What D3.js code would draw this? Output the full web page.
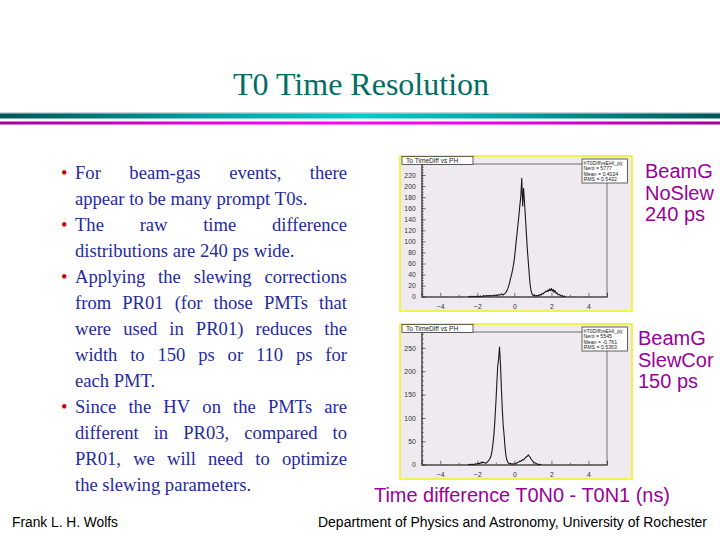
<!DOCTYPE html>
<html>
<head>
<meta charset="utf-8">
<script src="https://cdn.jsdelivr.net/npm/d3@7"></script>
<style>
  body { margin: 0; background: #fff; }
  svg { display: block; }
</style>
</head>
<body>
<svg id="slide" width="720" height="540"></svg>
<script>
'use strict';

// ---- slide text ----
var title = 'T0 Time Resolution';
var bulletParas = [
  ['For beam-gas events, there', 'appear to be many prompt T0s.'],
  ['The raw time difference', 'distributions are 240 ps wide.'],
  ['Applying the slewing corrections', 'from PR01 (for those PMTs that',
   'were used in PR01) reduces the', 'width to 150 ps or 110 ps for', 'each PMT.'],
  ['Since the HV on the PMTs are', 'different in PR03, compared to',
   'PR01, we will need to optimize', 'the slewing parameters.']
];
var label1 = ['BeamG', 'NoSlew', '240 ps'];
var label2 = ['BeamG', 'SlewCor', '150 ps'];
var xAxisTitle = 'Time difference T0N0 - T0N1 (ns)';
var footLeft = 'Frank L. H. Wolfs';
var footRight = 'Department of Physics and Astronomy, University of Rochester';

// ---- histogram data (bin width 0.05 ns) ----
var binWidth = 0.05;
var xTicks = [-4, -2, 0, 2, 4];
var xMinor = [-5, -3, -1, 1, 3, 5];

var h1Start = -2.5;
var h1Counts = [
  0, 0, 0, 1, 0, 0, 1, 0, 0, 1,
  0, 1, 0, 1, 1, 0, 1, 2, 1, 1,
  2, 1, 2, 1, 2, 2, 1, 2, 3, 2,
  2, 3, 2, 4, 3, 3, 5, 4, 3, 5,
  6, 8, 11, 15, 20, 26, 34, 40, 48, 57,
  68, 84, 100, 116, 132, 148, 166, 182, 214, 164,
  196, 170, 142, 114, 86, 64, 42, 22, 11, 5,
  3, 2, 3, 1, 2, 1, 3, 2, 4, 3,
  6, 5, 7, 8, 10, 9, 12, 10, 14, 11,
  15, 10, 13, 8, 11, 6, 7, 4, 3, 4,
  2, 1, 2, 0, 1, 0
];
var h1YMax = 240;
var h1YTicks = [0, 20, 40, 60, 80, 100, 120, 140, 160, 180, 200, 220];
var h1Stats = ['hT0DIffvsEHI_py', 'Nent = 5777', 'Mean = 0.4024', 'RMS  = 0.5432'];

var h2Start = -2.5;
var h2Counts = [
  0, 0, 1, 0, 1, 1, 0, 1, 2, 1,
  2, 3, 2, 4, 3, 6, 4, 5, 4, 3,
  4, 6, 8, 11, 14, 20, 30, 46, 66, 95,
  130, 170, 210, 226, 252, 215, 165, 118, 84, 62,
  36, 18, 10, 5, 3, 2, 3, 1, 2, 1,
  2, 2, 3, 4, 5, 6, 8, 7, 9, 11,
  10, 13, 15, 17, 18, 21, 18, 16, 12, 10,
  7, 5, 4, 3, 2, 1, 1, 0, 1, 0
];
var h2YMax = 284;
var h2YTicks = [0, 50, 100, 150, 200, 250];
var h2Stats = ['hT0DIffvsEHI_py', 'Nent = 5545', 'Mean = -0.761', 'RMS  = 0.5363'];

var svg = d3.select('#slide');
var defs = svg.append('defs');

// ---- title and rules ----
svg.append('text')
  .attr('x', 361).attr('y', 95)
  .attr('text-anchor', 'middle')
  .style('font-family', '"Liberation Serif", "Times New Roman", serif')
  .style('font-size', '32px')
  .attr('fill', '#006e66')
  .text(title);

var teal = defs.append('linearGradient').attr('id', 'teal');
[[0, '#005656'], [0.3, '#00a4a4'], [0.5, '#00cccc'], [0.7, '#00a4a4'], [1, '#005656']]
  .forEach(function (s) { teal.append('stop').attr('offset', s[0]).attr('stop-color', s[1]); });
var mag = defs.append('linearGradient').attr('id', 'mag');
[[0, '#a000a0'], [0.3, '#e800e8'], [0.5, '#ff00ff'], [0.7, '#e800e8'], [1, '#a000a0']]
  .forEach(function (s) { mag.append('stop').attr('offset', s[0]).attr('stop-color', s[1]); });

svg.append('rect').attr('x', 0).attr('y', 112.5).attr('width', 720).attr('height', 1)
  .attr('fill', '#9ab');
svg.append('rect').attr('x', 0).attr('y', 113.5).attr('width', 720).attr('height', 5)
  .attr('fill', 'url(#teal)');
svg.append('rect').attr('x', 0).attr('y', 121.5).attr('width', 720).attr('height', 3)
  .attr('fill', 'url(#mag)');

// ---- bullet text, justified ----
var textLeft = 75, textRight = 347, lineY = 179, lineStep = 26;
var serif = '"Liberation Serif", "Times New Roman", serif';
var bodyG = svg.append('g')
  .style('font-family', serif)
  .style('font-size', '18.6px')
  .attr('fill', '#1f2c9c');

var lineNo = 0;
bulletParas.forEach(function (para) {
  para.forEach(function (line, li) {
    var y = lineY + lineNo * lineStep;
    if (li === 0) {
      svg.append('text')
        .attr('x', 61).attr('y', y)
        .style('font-family', serif)
        .style('font-size', '18.6px')
        .attr('fill', '#d40000')
        .text('\u2022');
    }
    var words = line.split(' ');
    var nodes = words.map(function (w) {
      return bodyG.append('text').attr('y', y).text(w);
    });
    var widths = nodes.map(function (n) { return n.node().getComputedTextLength(); });
    var isLast = li === para.length - 1;
    var total = d3.sum(widths);
    var gap = (isLast || words.length < 2) ? 4.65 : (textRight - textLeft - total) / (words.length - 1);
    var x = textLeft;
    nodes.forEach(function (n, i) {
      n.attr('x', x);
      x += widths[i] + gap;
    });
    lineNo++;
  });
});

// ---- right labels ----
var sans = '"Liberation Sans", Arial, Helvetica, sans-serif';
function sideLabel(lines, x, y0) {
  var g = svg.append('g')
    .style('font-family', sans)
    .style('font-size', '20px')
    .attr('fill', '#990099');
  lines.forEach(function (t, i) {
    g.append('text').attr('x', x).attr('y', y0 + i * 21.5).text(t);
  });
}
sideLabel(label1, 645, 178);
sideLabel(label2, 638, 345);

svg.append('text')
  .attr('x', 374).attr('y', 502)
  .attr('textLength', 296).attr('lengthAdjust', 'spacingAndGlyphs')
  .style('font-family', sans).style('font-size', '19.8px')
  .attr('fill', '#990099')
  .text(xAxisTitle);

svg.append('text')
  .attr('x', 12).attr('y', 527)
  .attr('textLength', 106).attr('lengthAdjust', 'spacingAndGlyphs')
  .style('font-family', sans).style('font-size', '14px')
  .attr('fill', '#000')
  .text(footLeft);
svg.append('text')
  .attr('x', 318).attr('y', 527)
  .attr('textLength', 389).attr('lengthAdjust', 'spacingAndGlyphs')
  .style('font-family', sans).style('font-size', '14px')
  .attr('fill', '#000')
  .text(footRight);

// ---- ROOT-style histogram panels ----
function drawPanel(top, start, counts, yMax, yTicks, yMinorStep, stats) {
  var box = { x0: 400, x1: 632, y0: top, y1: top + 155 };
  var plot = { x0: 421.7, x1: 607, y0: top + 8, y1: top + 140.7 };
  var g = svg.append('g');

  g.append('rect')
    .attr('x', box.x0).attr('y', box.y0)
    .attr('width', box.x1 - box.x0).attr('height', box.y1 - box.y0)
    .attr('fill', '#efeaef')
    .attr('stroke', '#f2f020').attr('stroke-width', 1.6);

  var x = d3.scaleLinear().domain([-5, 5]).range([plot.x0, plot.x1]);
  var y = d3.scaleLinear().domain([0, yMax]).range([plot.y1, plot.y0]);

  // frame
  g.append('rect')
    .attr('x', plot.x0).attr('y', plot.y0)
    .attr('width', plot.x1 - plot.x0).attr('height', plot.y1 - plot.y0)
    .attr('fill', 'none').attr('stroke', '#555').attr('stroke-width', 0.8);

  // y axis, ticks pointing inside
  var yMinor = d3.range(0, yMax + 0.001, yMinorStep);
  g.append('g').attr('transform', 'translate(' + plot.x0 + ',0)')
    .call(d3.axisLeft(y).tickValues(yTicks).tickSize(-4).tickPadding(6)
      .tickFormat(d3.format('d')));
  g.append('g').attr('transform', 'translate(' + plot.x0 + ',0)')
    .call(d3.axisLeft(y).tickValues(yMinor).tickSize(-2).tickFormat(''))
    .call(function (s) { s.select('.domain').remove(); });

  g.append('g').attr('transform', 'translate(0,' + plot.y1 + ')')
    .call(d3.axisBottom(x).tickValues(xTicks).tickSize(-4).tickPadding(7)
      .tickFormat(d3.format('d')));
  g.append('g').attr('transform', 'translate(0,' + plot.y1 + ')')
    .call(d3.axisBottom(x).tickValues(xMinor).tickSize(-2).tickFormat(''))
    .call(function (s) { s.select('.domain').remove(); });

  g.selectAll('.domain').attr('stroke', '#444');
  g.selectAll('.tick line').attr('stroke', '#444').attr('stroke-width', 0.7);
  g.selectAll('.tick text')
    .style('font-family', sans).style('font-size', '6.8px')
    .attr('fill', '#333');

  // histogram line through bin centres
  var line = d3.line()
    .x(function (d, i) { return x(start + i * binWidth); })
    .y(function (d) { return y(d); });
  g.append('path')
    .datum(counts)
    .attr('d', line)
    .attr('fill', 'none')
    .attr('stroke', '#1a1a1a')
    .attr('stroke-width', 1.1)
    .attr('stroke-linejoin', 'round');

  // title box
  g.append('rect')
    .attr('x', 402).attr('y', top + 0.5).attr('width', 71).attr('height', 8)
    .attr('fill', '#fff').attr('stroke', '#222').attr('stroke-width', 0.7);
  g.append('text')
    .attr('x', 406).attr('y', top + 6.8)
    .style('font-family', sans).style('font-size', '6.6px')
    .attr('fill', '#222')
    .text('To TimeDiff vs PH');

  // stats box
  g.append('rect')
    .attr('x', 582).attr('y', top + 3).attr('width', 45.5).attr('height', 24)
    .attr('fill', '#fff').attr('stroke', '#222').attr('stroke-width', 0.7);
  stats.forEach(function (s, i) {
    g.append('text')
      .attr('x', 583.5).attr('y', top + 8.6 + i * 5.6)
      .style('font-family', sans).style('font-size', '5.2px')
      .attr('fill', '#222')
      .text(s);
  });
}

drawPanel(156, h1Start, h1Counts, h1YMax, h1YTicks, 5, h1Stats);
drawPanel(324, h2Start, h2Counts, h2YMax, h2YTicks, 10, h2Stats);
</script>
</body>
</html>
